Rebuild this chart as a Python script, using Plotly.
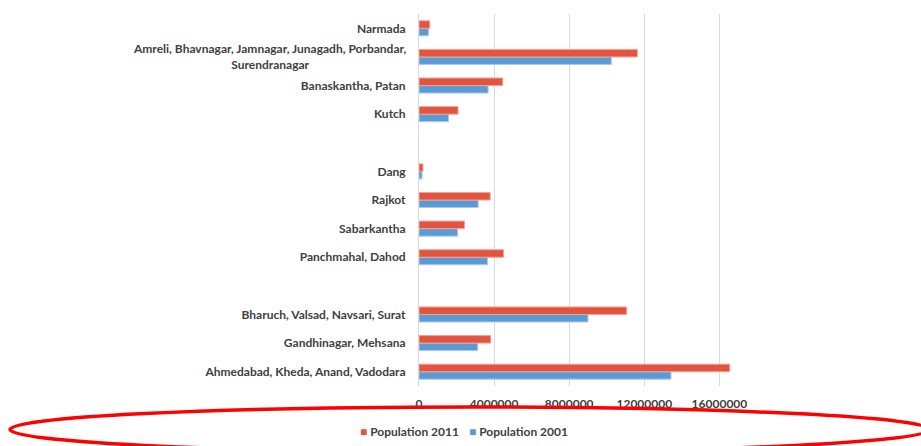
import plotly.graph_objects as go

categories = [
    "Ahmedabad, Kheda, Anand, Vadodara",
    "Gandhinagar, Mehsana",
    "Bharuch, Valsad, Navsari, Surat",
    " ",
    "Panchmahal, Dahod",
    "Sabarkantha",
    "Rajkot",
    "Dang",
    "  ",
    "Kutch",
    "Banaskantha, Patan",
    "Amreli, Bhavnagar, Jamnagar, Junagadh, Porbandar,<br>Surendranagar",
    "Narmada",
]
pop_2011 = [16550000, 3820000, 11060000, None, 4500000, 2420000, 3790000, 210000, None, 2080000, 4460000, 11630000, 570000]
pop_2001 = [13420000, 3130000, 9000000, None, 3650000, 2060000, 3150000, 160000, None, 1570000, 3680000, 10240000, 500000]
x_ticks = [0, 4000000, 8000000, 12000000, 16000000]
series_names = ["Population 2011", "Population 2001"]

RED = "#E2543E"
BLUE = "#5B9BD5"
FAM = "Lato, Calibri, sans-serif"
TXT = "#404040"

fig = go.Figure()
fig.add_trace(go.Bar(y=categories, x=pop_2001, orientation="h", name=series_names[1],
                     marker=dict(color=BLUE, line=dict(color="#A9CBEB", width=1))))
fig.add_trace(go.Bar(y=categories, x=pop_2011, orientation="h", name=series_names[0],
                     marker=dict(color=RED, line=dict(color="#F2A194", width=1))))

L, R, T, B = 419, 757, 14, 386
W, H = 921, 446

def px(x):
    return (x - L) / (R - L)

def py(y):
    return (B - y) / (B - T)

tickfont = dict(family=FAM, size=12, color=TXT, weight="bold")

# single-line labels go on the axis; multi-line labels are drawn centred as annotations
tick_text = ["" if "<br>" in c else c for c in categories]

fig.update_layout(
    width=W, height=H,
    margin=dict(l=L, r=W - R, t=T, b=H - B, autoexpand=False),
    plot_bgcolor="white", paper_bgcolor="white",
    barmode="group", bargap=0.475, bargroupgap=0,
    font=dict(family=FAM, size=12, color=TXT),
    showlegend=False,
    xaxis=dict(range=[0, 18000000], tickvals=x_ticks, tickformat="d", showgrid=True,
               gridcolor="#D9D9D9", gridwidth=1, zeroline=False, showline=False,
               ticklabelstandoff=9, tickfont=tickfont, fixedrange=True, automargin=False),
    yaxis=dict(type="category", categoryorder="array", categoryarray=categories,
               tickvals=categories, ticktext=tick_text,
               showgrid=False, zeroline=False, showline=True, linecolor="#D9D9D9", linewidth=1,
               ticklabelstandoff=10, tickfont=tickfont, fixedrange=True, automargin=False),
)

for c in categories:
    if "<br>" in c:
        fig.add_annotation(xref="paper", yref="y", x=px(408), y=c, xanchor="right", yanchor="middle",
                           align="center", showarrow=False, text=c,
                           font=dict(family=FAM, size=12, color=TXT, weight="bold"))

# legend drawn as text entries
legend_x = [358, 467]
legend_colors = [RED, BLUE]
for name, lx, col in zip(series_names, legend_x, legend_colors):
    fig.add_annotation(xref="paper", yref="paper", x=px(lx), y=py(432), xanchor="left", yanchor="middle",
                       showarrow=False,
                       text=f"<span style='color:{col}'>■</span> {name}",
                       font=dict(family=FAM, size=12, color=TXT, weight="bold"))

fig.add_shape(type="circle", xref="paper", yref="paper",
              x0=px(10), x1=px(930), y0=py(452), y1=py(407),
              line=dict(color="#FF0000", width=3.5), layer="above")

fig.write_html("out.html")
